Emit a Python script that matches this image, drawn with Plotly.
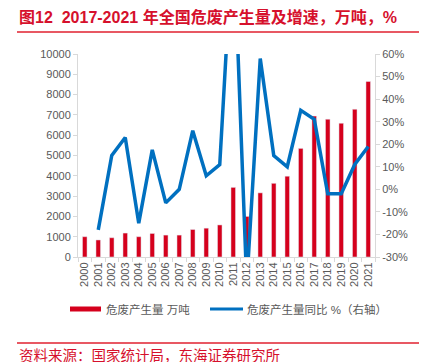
import plotly.graph_objects as go

years = [str(y) for y in range(2000, 2022)]
output_wt = [1000, 840, 950, 1180, 1000, 1160, 1080, 1080, 1355, 1420, 1580,
             3430, 2000, 3160, 3630, 3980, 5350, 6940, 6790, 6590, 7280, 8650]
growth_pct = [None, -18, 15, 23, -15, 17.5, -6, 0, 26, 6, 11,
              116, -42, 58, 15, 10, 35, 31, -2, -2, 11, 19]
left_ticks = list(range(0, 10001, 1000))
left_labels = [str(v) for v in left_ticks]
right_ticks = list(range(-30, 61, 10))
right_labels = [f"{v}%" for v in right_ticks]

RED = "#D5001C"
BLUE = "#0070C0"
GRAY = "#595959"
AXIS = "#D9D9D9"
FONT = "Liberation Sans, Noto Sans CJK SC, sans-serif"

fig = go.Figure()
fig.add_trace(go.Bar(x=years, y=output_wt, marker_color=RED, width=0.34,
                     name="危废产生量 万吨", yaxis="y", hoverinfo="skip"))
fig.add_trace(go.Scatter(x=years, y=growth_pct, mode="lines",
                         line=dict(color=BLUE, width=3.5), name="危废产生量同比 %（右轴）",
                         yaxis="y2", connectgaps=False, hoverinfo="skip"))

W, H = 422, 362
L, R, T, B = 78, 375, 54, 257
def px(x):
    return (x - L) / (R - L)
def py(y):
    return (B - y) / (B - T)

fig.update_layout(
    width=W, height=H,
    margin=dict(l=L, r=W - R, t=T, b=H - B),
    paper_bgcolor="white", plot_bgcolor="white",
    showlegend=False,
    hovermode=False,
    font=dict(family=FONT, color=GRAY, size=11),
    xaxis=dict(type="category", range=[-0.5, 21.5], tickangle=-90,
               showline=True, linecolor=AXIS, linewidth=1,
               ticks="outside", tickson="boundaries", ticklen=4, tickcolor=AXIS,
               tickfont=dict(size=11, color=GRAY), showgrid=False),
    yaxis=dict(range=[0, 10000], tickvals=left_ticks, ticktext=left_labels, showgrid=False,
               showline=True, linecolor=AXIS, linewidth=1,
               ticks="outside", ticklen=4, tickcolor=AXIS,
               tickfont=dict(size=11, color=GRAY), zeroline=False),
    yaxis2=dict(range=[-30, 60], tickvals=right_ticks, ticktext=right_labels,
                overlaying="y", side="right", showgrid=False,
                showline=True, linecolor=AXIS, linewidth=1,
                ticks="outside", ticklen=4, tickcolor=AXIS,
                tickfont=dict(size=11, color=GRAY), zeroline=False),
)

shapes = [
    dict(type="line", xref="paper", yref="paper", x0=px(17), x1=px(419),
         y0=py(32), y1=py(32), line=dict(color="#E0202F", width=1.5)),
    dict(type="line", xref="paper", yref="paper", x0=px(17), x1=px(419),
         y0=py(343), y1=py(343), line=dict(color="#E0202F", width=1.5)),
    dict(type="line", xref="paper", yref="paper", x0=px(70), x1=px(101),
         y0=py(309), y1=py(309), line=dict(color=RED, width=5)),
    dict(type="line", xref="paper", yref="paper", x0=px(210), x1=px(243),
         y0=py(309), y1=py(309), line=dict(color=BLUE, width=3)),
]
fig.update_layout(shapes=shapes)

annotations = [
    dict(text="<b>图12  2017-2021 年全国危废产生量及增速，万吨，%</b>",
         xref="paper", yref="paper", x=px(17), y=py(17), xanchor="left", yanchor="middle",
         showarrow=False, font=dict(size=16, color="#D6102C", family=FONT)),
    dict(text="危废产生量 万吨", xref="paper", yref="paper", x=px(104), y=py(309),
         xanchor="left", yanchor="middle", showarrow=False,
         font=dict(size=11.5, color=GRAY, family=FONT)),
    dict(text="危废产生量同比 %（右轴）", xref="paper", yref="paper", x=px(245), y=py(309),
         xanchor="left", yanchor="middle", showarrow=False,
         font=dict(size=11.5, color=GRAY, family=FONT)),
    dict(text="资料来源：国家统计局，东海证券研究所", xref="paper", yref="paper",
         x=px(17), y=py(346), xanchor="left", yanchor="top", showarrow=False,
         font=dict(size=14.5, color="#D6102C", family=FONT)),
]
fig.update_layout(annotations=annotations)

fig.write_html("out.html", config={"displayModeBar": False, "staticPlot": True})
with open("out.html", "r", encoding="utf-8") as f:
    html = f.read()
html = html.replace("<head>", "<head><style>html,body{margin:0;padding:0;overflow:hidden;}</style>", 1)
with open("out.html", "w", encoding="utf-8") as f:
    f.write(html)
